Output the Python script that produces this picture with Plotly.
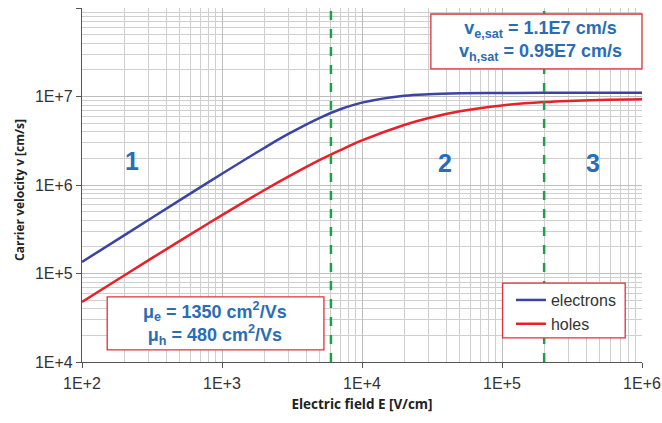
import plotly.graph_objects as go

# Data
E_field = [1e2, 2e2, 5e2, 1e3, 2e3, 3e3, 5e3, 7e3, 1e4, 2e4, 3e4, 5e4, 1e5, 2e5, 5e5, 1e6]
v_electrons = [1.35e5, 2.70e5, 6.74e5, 1.34e6, 2.62e6, 3.80e6, 5.75e6, 7.17e6, 8.53e6,
               1.019e7, 1.062e7, 1.086e7, 1.097e7, 1.099e7, 1.10e7, 1.10e7]
v_holes = [4.78e4, 9.50e4, 2.34e5, 4.57e5, 8.72e5, 1.25e6, 1.92e6, 2.48e6, 3.19e6,
           4.77e6, 5.72e6, 6.81e6, 7.93e6, 8.64e6, 9.14e6, 9.32e6]
region_bounds = [6000, 2e5]
x_ticks = [1e2, 1e3, 1e4, 1e5, 1e6]
x_tick_text = ["1E+2", "1E+3", "1E+4", "1E+5", "1E+6"]
y_ticks = [1e4, 1e5, 1e6, 1e7, 1e8]
y_tick_text = ["1E+4", "1E+5", "1E+6", "1E+7", "1E+8"]

BLUE_TXT = "#2a6db5"
RED_BOX = "#e0303a"
FONT = "Liberation Sans, Arial, sans-serif"
TITLE_FONT = "Open Sans, Liberation Sans, sans-serif"

fig = go.Figure()
fig.add_trace(go.Scatter(x=E_field, y=v_electrons, mode="lines", name="electrons",
                         line=dict(color="#3b44a0", width=2.5, shape="spline")))
fig.add_trace(go.Scatter(x=E_field, y=v_holes, mode="lines", name="holes",
                         line=dict(color="#e8202a", width=2.5, shape="spline")))

for xb in region_bounds:
    fig.add_shape(type="line", xref="x", yref="paper", x0=xb, x1=xb, y0=0, y1=1,
                  line=dict(color="#1fa048", width=2.5, dash="dash"), layer="above")

# Boxes (drawn above the dashed lines)
box_line = dict(color=RED_BOX, width=1.3)
fig.add_shape(type="rect", xref="paper", yref="paper", x0=0.623, x1=1.0, y0=0.828, y1=0.983,
              fillcolor="white", line=box_line, layer="above")
fig.add_shape(type="rect", xref="paper", yref="paper", x0=0.045, x1=0.432, y0=0.034, y1=0.184,
              fillcolor="white", line=box_line, layer="above")
fig.add_shape(type="rect", xref="paper", yref="paper", x0=0.751, x1=0.970, y0=0.068, y1=0.223,
              fillcolor="white", line=box_line, layer="above")

axis_common = dict(
    type="log", showline=True, linecolor="#555", linewidth=1.2,
    ticks="outside", ticklen=5, tickcolor="#555",
    showgrid=True, gridcolor="#bdbdbd", gridwidth=1,
    tickfont=dict(family=FONT, size=16, color="#333"),
    minor=dict(showgrid=True, gridcolor="#cfcfcf", gridwidth=1, dtick="D1", ticks=""),
    zeroline=False, mirror=False, automargin=False,
)
fig.update_xaxes(range=[2, 6], tickvals=x_ticks, ticktext=x_tick_text,
                 ticklabelstandoff=2,
                 title=dict(text="<b>Electric field E [V/cm]</b>",
                            font=dict(family=TITLE_FONT, size=13.5, color="#222"), standoff=8),
                 **axis_common)
fig.update_yaxes(range=[4, 8], tickvals=y_ticks, ticktext=y_tick_text,
                 ticklabelstandoff=0, **axis_common)

# Y axis title
fig.add_annotation(x=0, y=0.486, xref="paper", yref="paper", xanchor="center", yanchor="middle",
                   xshift=-62, textangle=-90, showarrow=False,
                   text="<b>Carrier velocity v [cm/s]</b>",
                   font=dict(family=TITLE_FONT, size=12, color="#222"))

# Region labels
for txt, xv, yv in [("1", 2.36, 6.27), ("2", 4.59, 6.25), ("3", 5.65, 6.25)]:
    fig.add_annotation(x=xv, y=yv, xref="x", yref="y", text=f"<b>{txt}</b>",
                       showarrow=False, font=dict(family=FONT, size=25, color=BLUE_TXT))

# Info box texts
fig.add_annotation(x=0.818, y=0.908, xref="paper", yref="paper", xanchor="center", yanchor="middle",
                   text="<b>v<sub>e,sat</sub> = 1.1E7 cm/s</b><br><b>v<sub>h,sat</sub> = 0.95E7 cm/s</b>",
                   showarrow=False, align="center",
                   font=dict(family=FONT, size=18, color=BLUE_TXT))
fig.add_annotation(x=0.237, y=0.110, xref="paper", yref="paper", xanchor="center", yanchor="middle",
                   text="<b>μ<sub>e</sub> = 1350 cm<sup>2</sup>/Vs</b><br><b>μ<sub>h</sub> = 480 cm<sup>2</sup>/Vs</b>",
                   showarrow=False, align="center",
                   font=dict(family=FONT, size=18, color=BLUE_TXT))

fig.update_layout(
    width=662, height=423,
    margin=dict(l=82, r=20, t=8, b=61, autoexpand=False),
    paper_bgcolor="white", plot_bgcolor="white",
    showlegend=True,
    legend=dict(x=0.766, y=0.223, xanchor="left", yanchor="top",
                bgcolor="rgba(0,0,0,0)", borderwidth=0,
                font=dict(family=FONT, size=16, color="#333"),
                itemwidth=30, tracegroupgap=2),
)

fig.write_html("out.html")
